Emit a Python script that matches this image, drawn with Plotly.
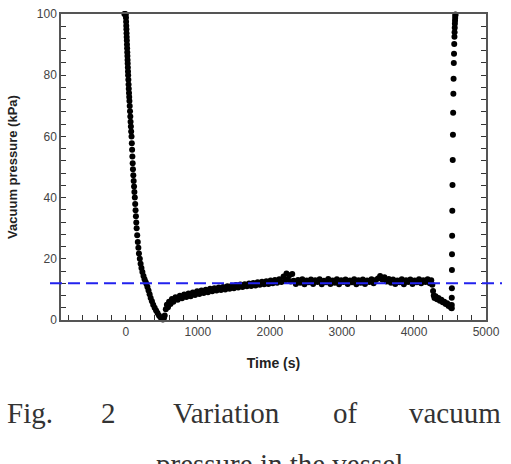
import plotly.graph_objects as go

# ---- data ----
# pump-down (descent)
t_down = [-20, -10, 0, 2, 4, 6, 8, 10, 12, 14, 16, 18, 20, 22, 24, 26, 28, 30, 32, 35, 38, 41, 44, 47, 50,
          54, 58, 62, 66, 70, 74, 79, 83, 87, 91, 95, 99, 104, 109, 114, 119, 125, 130, 135, 140, 145, 150,
          158, 166, 174, 182, 194, 205, 217, 230, 245, 260, 275, 287, 300, 315, 330, 345, 362, 380, 400,
          420, 440, 460, 480, 500, 514, 528]
p_down = [100, 100, 99.8, 98.8, 97.5, 96.2, 95, 93.7, 92.5, 91.3, 90, 88.8, 87.5, 86.3, 85, 83.8, 82.5, 81.2,
          80, 78.5, 77, 75.6, 74.2, 72.9, 71.6, 69.9, 68.2, 66.5, 64.8, 63.2, 61.6, 60, 57.8, 55.6, 53.4,
          51.2, 49.3, 47.3, 45.4, 43.6, 41.8, 40, 37.9, 35.9, 33.9, 31.9, 30, 27.7, 25.5, 23.6, 21.7, 20,
          18.4, 17, 15.7, 14.4, 13.3, 12.4, 11.8, 10.8, 9.6, 8.4, 7.2, 6.1, 5, 4, 3.1, 2.3, 1.5, 0.9, 0.4,
          0.2, 0.6]

# recovery
t_rec = [540, 555, 570, 585, 600, 620, 640, 660, 690, 720, 750, 780, 810, 840, 870, 900, 930, 960, 990,
         1020, 1050, 1080, 1110, 1140, 1170, 1200, 1230, 1260, 1290, 1320, 1350, 1380, 1410, 1440, 1470,
         1500, 1530, 1560, 1590, 1620, 1650, 1680, 1710, 1740, 1770, 1800, 1830, 1860, 1890, 1920, 1950,
         1980, 2010, 2040, 2070, 2100, 2130, 2160, 2190, 2210, 2230, 2250, 2270, 2290, 2310, 2330]
p_rec = [1.5, 3.5, 5.0, 4.2, 6.0, 5.2, 6.9, 6.0, 7.4, 6.6, 7.9, 7.1, 8.3, 7.5, 8.7, 7.8, 9.0, 8.2, 9.4,
         8.5, 9.6, 8.8, 9.9, 9.1, 10.2, 9.4, 10.4, 9.6, 10.6, 9.8, 10.8, 10.0, 11.0, 10.2, 11.2,
         10.4, 11.4, 10.6, 11.6, 10.8, 11.7, 11.0, 11.9, 11.1, 12.1, 11.3, 12.3, 11.5, 12.5, 11.7, 12.7,
         11.8, 12.9, 12.0, 13.1, 12.2, 13.3, 12.4, 14.2, 12.8, 15.2, 13.2, 14.6, 12.6, 15.0, 12.8]

# steady plateau
t_flat = [2360, 2390, 2420, 2450, 2480, 2510, 2540, 2570, 2600, 2630, 2660, 2690, 2720, 2750, 2780, 2810,
          2840, 2870, 2900, 2930, 2960, 2990, 3020, 3050, 3080, 3110, 3140, 3170, 3200, 3230, 3260, 3290,
          3320, 3350, 3380, 3410, 3440, 3470, 3500, 3530, 3560, 3590, 3620, 3650, 3680, 3710, 3740, 3770,
          3800, 3830, 3860, 3890, 3920, 3950, 3980, 4010, 4040, 4070, 4100, 4130, 4160, 4190, 4220, 4240,
          4255, 4265, 4275]
p_flat = [11.8, 13.1, 12.2, 13.3, 11.7, 12.9, 12.3, 13.2, 11.8, 13.0, 12.4, 13.3, 11.7, 12.8, 12.3, 13.4,
          11.8, 12.9, 12.2, 13.3, 11.7, 13.0, 12.4, 13.2, 11.8, 12.9, 12.3, 13.3, 11.7, 13.0, 12.2, 13.2,
          11.8, 12.9, 12.4, 13.3, 12.0, 13.1, 13.6, 14.4, 13.2, 14.0, 12.6, 13.4, 12.2, 13.2, 11.8, 12.9,
          12.3, 13.3, 11.7, 13.0, 12.4, 13.2, 11.8, 12.9, 12.3, 13.3, 12.0, 13.0, 12.4, 13.3, 12.0, 13.0,
          11.5, 9.5, 8.0]

# decline before venting
t_dec = [4285, 4300, 4320, 4340, 4360, 4380, 4400, 4420, 4440, 4460, 4480, 4500, 4515, 4525]
p_dec = [7.2, 7.8, 6.8, 7.2, 6.3, 6.6, 5.8, 6.0, 5.2, 5.5, 4.6, 4.8, 4.0, 3.8]

# venting (repressurisation)
t_vent = [4525, 4525, 4526, 4527, 4528, 4530, 4532, 4535, 4538, 4541, 4544, 4547, 4550, 4553, 4556, 4559,
          4562, 4564, 4566, 4568, 4570, 4572, 4574, 4576]
p_vent = [4.9, 7.3, 10.4, 16.3, 21.5, 27.5, 35.7, 44.1, 52.3, 60.5, 67.7, 73.9, 78.8, 84.0, 87.0, 90.2,
          92.6, 94.0, 95.5, 96.8, 97.8, 98.7, 99.4, 99.8]

ref_level = 12

x_label = "Time (s)"
y_label = "Vacuum pressure (kPa)"
caption_line1 = ["Fig.", "2", "Variation", "of", "vacuum"]
caption_line2 = "pressure in the vessel"

# ---- figure ----
W, H = 511, 464
L, R, T, B = 61, 486, 14, 320


def px(x):
    return (x - L) / (R - L)


def py(y):
    return (B - y) / (B - T)


t_all = t_down + t_rec + t_flat + t_dec + t_vent
p_all = p_down + p_rec + p_flat + p_dec + p_vent

fig = go.Figure()
fig.add_trace(go.Scatter(x=t_all, y=p_all, mode="markers",
                         marker=dict(color="black", size=6, line=dict(width=0)),
                         showlegend=False, cliponaxis=False))

fig.add_shape(type="line", xref="paper", yref="y", x0=px(50), x1=px(502), y0=ref_level, y1=ref_level,
              line=dict(color="#2222ee", width=2, dash="12px,6px"), layer="above")

tickfont = dict(family="Liberation Sans, Arial, sans-serif", size=12, color="#444444")
fig.update_xaxes(range=[-900, 5000], tick0=0, dtick=1000, ticks="inside", ticklen=5, tickwidth=1,
                 tickcolor="#333333", showline=True, linecolor="#555555", linewidth=1.5, mirror=True,
                 showgrid=False, zeroline=False, tickfont=tickfont,
                 minor=dict(tick0=0, dtick=200, ticks="inside", ticklen=5, tickcolor="#333333", showgrid=False),
                 title=dict(text="<b>" + x_label + "</b>", standoff=20,
                            font=dict(family="Liberation Sans, Arial, sans-serif", size=14, color="#222222")))
fig.update_yaxes(range=[0, 100], tick0=0, dtick=20, ticks="inside", ticklen=5, tickwidth=1,
                 tickcolor="#333333", showline=True, linecolor="#555555", linewidth=1.5, mirror="ticks",
                 showgrid=False, zeroline=False, tickfont=tickfont,
                 minor=dict(tick0=0, dtick=4, ticks="inside", ticklen=5, tickcolor="#333333", showgrid=False),
                 title=dict(text="<b>" + y_label + "</b>", standoff=16,
                            font=dict(family="Liberation Sans, Arial, sans-serif", size=13, color="#222222")))

capfont = dict(family="Liberation Serif, Times New Roman, serif", size=29, color="#333333")
centers1 = [29.5, 108.5, 226, 345, 455]
for word, cx in zip(caption_line1, centers1):
    fig.add_annotation(text=word, xref="paper", yref="paper", x=px(cx), y=py(413), xanchor="center",
                       yanchor="middle", showarrow=False, font=capfont)
fig.add_annotation(text=caption_line2, xref="paper", yref="paper", x=px(279), y=py(464), xanchor="center",
                   yanchor="middle", showarrow=False, font=capfont)

fig.update_layout(width=W, height=H, margin=dict(l=L, r=W - R, t=T, b=H - B, autoexpand=False),
                  paper_bgcolor="white", plot_bgcolor="white", showlegend=False)

fig.write_html("out.html")
